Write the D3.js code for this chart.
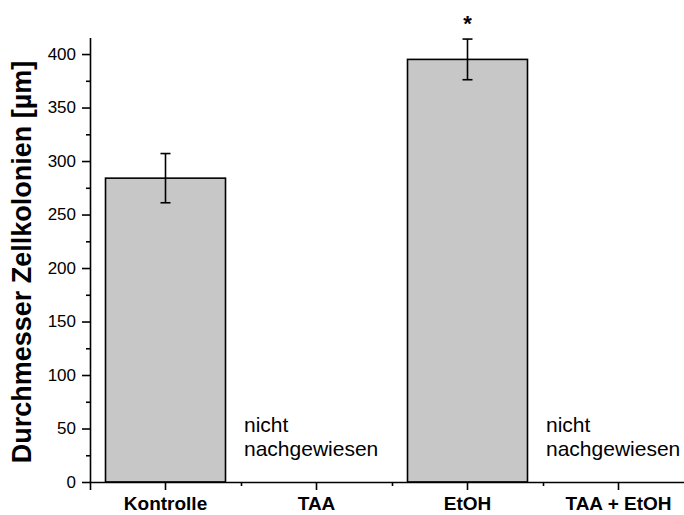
<!DOCTYPE html>
<html>
<head>
<meta charset="utf-8">
<script src="https://cdn.jsdelivr.net/npm/d3@7"></script>
<style>
  body { margin: 0; background: #fff; }
  text { font-family: Arial, "Liberation Sans", sans-serif; }
</style>
</head>
<body>
<div class="outer-container"></div>
<script>
const categories = ['Kontrolle', 'TAA', 'EtOH', 'TAA + EtOH']
const means = [284, null, 395, null]
const errors = [23, null, 19, null]
const significant = [false, false, true, false]
const yTicks = [0, 50, 100, 150, 200, 250, 300, 350, 400]
const yMinorTicks = [25, 75, 125, 175, 225, 275, 325, 375]
const missingText = ['nicht', 'nachgewiesen']
const yTitle = 'Durchmesser Zellkolonien [µm]'

const w = 684
const h = 515
const padLeft = 90
const axisY = 482
const axisTop = 38
const pad = 0.2053

const xScale = d3.scaleBand()
                 .domain(categories)
                 .range([padLeft, padLeft + 604])
                 .paddingInner(pad)
                 .paddingOuter(pad / 2)

const yScale = d3.scaleLinear()
                 .domain([0, 415])
                 .range([axisY, axisTop])

const svg = d3.select('.outer-container')
              .append('svg')
              .attr('width', w)
              .attr('height', h)

const dataset = categories.map((c, i) => ({ cat: c, mean: means[i], err: errors[i], sig: significant[i] }))
const bars = dataset.filter(d => d.mean !== null)
const missing = dataset.filter(d => d.mean === null)

// bars
svg.selectAll('rect.bar')
   .data(bars)
   .enter()
   .append('rect')
   .attr('class', 'bar')
   .attr('x', d => xScale(d.cat))
   .attr('y', d => yScale(d.mean))
   .attr('width', xScale.bandwidth())
   .attr('height', d => yScale(0) - yScale(d.mean))
   .attr('fill', '#c7c7c7')
   .attr('stroke', '#000')
   .attr('stroke-width', 1.6)

// error bars
const cx = d => xScale(d.cat) + xScale.bandwidth() / 2
const eb = svg.append('g')
              .attr('stroke', '#000')
              .attr('stroke-width', 1.6)
eb.selectAll('line.v')
  .data(bars)
  .enter()
  .append('line')
  .attr('x1', cx).attr('x2', cx)
  .attr('y1', d => yScale(d.mean + d.err))
  .attr('y2', d => yScale(d.mean - d.err))
bars.forEach(d => {
  [d.mean + d.err, d.mean - d.err].forEach(v => {
    eb.append('line')
      .attr('x1', cx(d) - 5).attr('x2', cx(d) + 5)
      .attr('y1', yScale(v)).attr('y2', yScale(v))
  })
})

// asterisk
svg.selectAll('text.sig')
   .data(bars.filter(d => d.sig))
   .enter()
   .append('text')
   .attr('class', 'sig')
   .attr('x', cx)
   .attr('y', d => yScale(d.mean + d.err) - 8)
   .attr('text-anchor', 'middle')
   .attr('font-size', 22)
   .attr('font-weight', 'bold')
   .text('*')

// not detected labels
missing.forEach(d => {
  const x0 = xScale(d.cat) - xScale.step() * pad / 2 + 3
  missingText.forEach((t, j) => {
    svg.append('text')
       .attr('x', x0)
       .attr('y', 432 + j * 24)
       .attr('font-size', 21)
       .text(t)
  })
})

// y axis
const yAxis = d3.axisLeft(yScale)
                .tickValues(yTicks)
                .tickSize(8)
                .tickPadding(6)
const yMinor = d3.axisLeft(yScale)
                 .tickValues(yMinorTicks)
                 .tickSize(4)
                 .tickFormat('')

svg.append('g')
   .attr('transform', 'translate(' + padLeft + ', 0)')
   .call(yMinor)
   .call(g => g.select('.domain').remove())
svg.append('g')
   .attr('id', 'y-axis')
   .attr('transform', 'translate(' + padLeft + ', 0)')
   .call(yAxis)
   .call(g => g.select('.domain').attr('d', 'M0.5,' + axisTop + 'V' + axisY))

// x axis
const xAxis = d3.axisBottom(xScale)
                .tickSize(8)
                .tickPadding(7)
const xMinorVals = categories.slice(1).map(c => xScale(c) - xScale.step() * pad / 2)
const xMinor = d3.axisBottom(d3.scaleLinear().domain([0, w]).range([0, w]))
                 .tickValues(xMinorVals)
                 .tickSize(4)
                 .tickFormat('')

svg.append('g')
   .attr('transform', 'translate(0, ' + axisY + ')')
   .call(xMinor)
   .call(g => g.select('.domain').remove())
svg.append('g')
   .attr('id', 'x-axis')
   .attr('transform', 'translate(0, ' + axisY + ')')
   .call(xAxis)

svg.selectAll('.tick line, .domain')
   .attr('stroke', '#000')
   .attr('stroke-width', 1.6)
svg.selectAll('#y-axis .tick text')
   .attr('font-size', 17)
   .attr('fill', '#000')
svg.selectAll('#x-axis .tick text')
   .attr('font-size', 19)
   .attr('font-weight', 'bold')
   .attr('fill', '#000')

// y title
svg.append('text')
   .attr('transform', 'translate(31, ' + ((axisTop + axisY) / 2 + 2) + ') rotate(-90)')
   .attr('text-anchor', 'middle')
   .attr('font-size', 27)
   .attr('font-weight', 'bold')
   .text(yTitle)
</script>
</body>
</html>
